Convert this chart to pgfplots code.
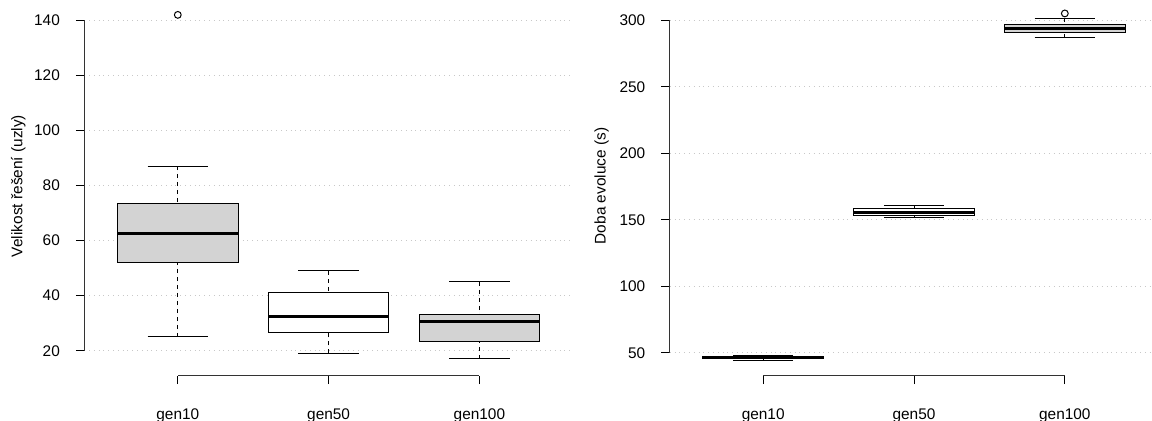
\documentclass[border=0pt]{standalone}
\usepackage{fontspec}
\setmainfont{Liberation Sans}
\usepackage{pgfplots}
\pgfplotsset{compat=1.18}
\usepgfplotslibrary{statistics}

\definecolor{boxgray}{HTML}{D3D3D3}
\definecolor{gridgray}{HTML}{C8C8C8}

% whisker: dashed stem from quartile, solid cap (R style)
\newcommand\rwhisker[2]{%
  \pgfmathsetmacro\wpos{\pgfplotsboxplotvalue{draw position}}%
  \pgfmathsetmacro\wl{\wpos-0.2}%
  \pgfmathsetmacro\wr{\wpos+0.2}%
  \draw[dash pattern=on 2pt off 2pt]
    (axis cs:\wpos,\pgfplotsboxplotvalue{#1}) --
    (axis cs:\wpos,\pgfplotsboxplotvalue{#2});
  \draw (axis cs:\wl,\pgfplotsboxplotvalue{#1}) --
    (axis cs:\wr,\pgfplotsboxplotvalue{#1});
}

% R-like base graphics boxplot panel
\pgfplotsset{
  rpanel/.style={
    scale only axis,
    height=187.85pt,
    xmin=0.38,
    axis x line*=bottom, axis y line*=left,
    axis line style={draw=none},
    tick align=outside,
    major tick length=4.2pt,
    tick style={black, line width=0.5pt},
    xtick={1,2,3},
    xticklabels={gen10,gen50,gen100},
    xticklabel style={anchor=center, yshift=-15.6pt},
    yticklabel style={anchor=east, xshift=-4.5pt},
    ymajorgrids,
    grid style={gridgray, dotted, line width=0.6pt},
    font=\fontsize{7.7}{9}\selectfont,
    /pgf/number format/assume math mode=true,
    clip=false,
    boxplot/draw direction=y,
    boxplot/box extend=0.8,
    boxplot/every median/.style={line width=1.5pt},
    boxplot/draw/lower whisker/.code={\rwhisker{lower whisker}{lower quartile}},
    boxplot/draw/upper whisker/.code={\rwhisker{upper whisker}{upper quartile}},
  },
  rbox/.style={draw=black, line width=0.5pt, fill=#1,
    mark=o, mark size=1.7pt, mark options={fill=none, solid}},
}

\begin{document}
\begin{tikzpicture}
\path[use as bounding box] (0,0) rectangle (576pt,210pt);

% left panel: solution size
\begin{axis}[rpanel,
  at={(42.15pt,22.15pt)}, anchor=south west,
  width=244.3pt, xmax=3.62,
  ymin=10.92, ymax=147.4,
  ytick={20,40,60,80,100,120,140},
  ylabel={Velikost řešení (uzly)},
  ylabel style={at={(axis description cs:-0.1349,0.505)}, anchor=center},
]
\draw[black!80, line width=0.5pt] (axis cs:0.38,20) -- (axis cs:0.38,140);
\draw[black!80, line width=0.5pt] (axis cs:1,10.92) -- (axis cs:3,10.92);
\addplot[rbox=boxgray, boxplot prepared={lower whisker=25, lower quartile=52,
  median=62.5, upper quartile=73.5, upper whisker=87, draw position=1}]
  coordinates {(1,142)};
\addplot[rbox=white, boxplot prepared={lower whisker=19, lower quartile=26.5,
  median=32.5, upper quartile=41, upper whisker=49, draw position=2}]
  coordinates {};
\addplot[rbox=boxgray, boxplot prepared={lower whisker=17, lower quartile=23.5,
  median=30.5, upper quartile=33, upper whisker=45, draw position=3}]
  coordinates {};
\end{axis}

% right panel: evolution time
\begin{axis}[rpanel,
  at={(334.85pt,22.15pt)}, anchor=south west,
  width=241.15pt, xmax=3.578,
  ymin=32.7, ymax=315.3,
  ytick={50,100,150,200,250,300},
  ylabel={Doba evoluce (s)},
  ylabel style={at={(axis description cs:-0.141,0.505)}, anchor=center},
]
\draw[black!80, line width=0.5pt] (axis cs:0.38,50) -- (axis cs:0.38,300);
\draw[black!80, line width=0.5pt] (axis cs:1,32.7) -- (axis cs:3,32.7);
\addplot[rbox=boxgray, boxplot prepared={lower whisker=44.5, lower quartile=45.4,
  median=46.3, upper quartile=47.3, upper whisker=48.2, draw position=1}]
  coordinates {};
\addplot[rbox=white, boxplot prepared={lower whisker=151.6, lower quartile=153.5,
  median=155.8, upper quartile=158.5, upper whisker=160.5, draw position=2}]
  coordinates {};
\addplot[rbox=boxgray, boxplot prepared={lower whisker=286.9, lower quartile=290.6,
  median=293.7, upper quartile=296.9, upper whisker=301.5, draw position=3}]
  coordinates {(3,305.2)};
\end{axis}
\end{tikzpicture}
\end{document}
